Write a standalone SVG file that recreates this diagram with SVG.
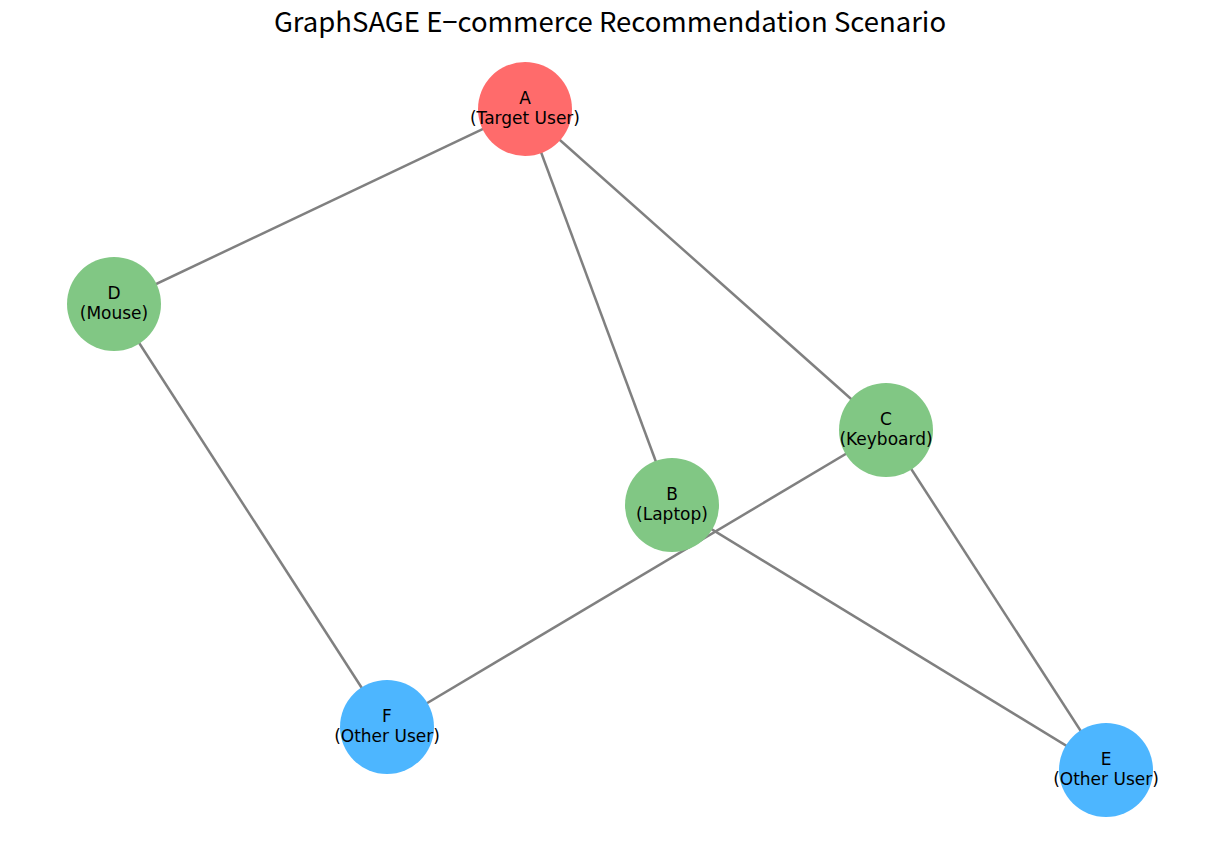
<svg xmlns="http://www.w3.org/2000/svg" width="1220" height="850" viewBox="0 0 1220 850">
<style>
.edge{stroke:#808080;stroke-width:2.5;fill:none}
.lbl{font-family:"DejaVu Sans",sans-serif;font-size:17px;fill:#000;text-anchor:middle}
.title{font-family:"Noto Sans CJK SC","Noto Sans",sans-serif;font-size:27.5px;fill:#000;text-anchor:middle}
.target{fill:#FF6B6B}
.item{fill:#81C784}
.user{fill:#4DB6FF}
</style>
<rect width="1220" height="850" fill="#ffffff"/>
<text class="title" x="610" y="32">GraphSAGE E−commerce Recommendation Scenario</text>
<g id="edges">
<line class="edge" x1="525" y1="109" x2="114" y2="304"/>
<line class="edge" x1="525" y1="109" x2="672" y2="505"/>
<line class="edge" x1="525" y1="109" x2="886" y2="430"/>
<line class="edge" x1="114" y1="304" x2="387" y2="727"/>
<line class="edge" x1="886" y1="430" x2="387" y2="727"/>
<line class="edge" x1="886" y1="430" x2="1106" y2="770"/>
<line class="edge" x1="672" y1="505" x2="1106" y2="770"/>
</g>
<g id="node-A"><circle class="target" cx="525" cy="109" r="47"/><text class="lbl" x="525" y="104">A</text><text class="lbl" x="525" y="124">(Target User)</text></g>
<g id="node-D"><circle class="item" cx="114" cy="304" r="47"/><text class="lbl" x="114" y="299">D</text><text class="lbl" x="114" y="319">(Mouse)</text></g>
<g id="node-C"><circle class="item" cx="886" cy="430" r="47"/><text class="lbl" x="886" y="425">C</text><text class="lbl" x="886" y="445">(Keyboard)</text></g>
<g id="node-B"><circle class="item" cx="672" cy="505" r="47"/><text class="lbl" x="672" y="500">B</text><text class="lbl" x="672" y="520">(Laptop)</text></g>
<g id="node-F"><circle class="user" cx="387" cy="727" r="47"/><text class="lbl" x="387" y="722">F</text><text class="lbl" x="387" y="742">(Other User)</text></g>
<g id="node-E"><circle class="user" cx="1106" cy="770" r="47"/><text class="lbl" x="1106" y="765">E</text><text class="lbl" x="1106" y="785">(Other User)</text></g>
</svg>
